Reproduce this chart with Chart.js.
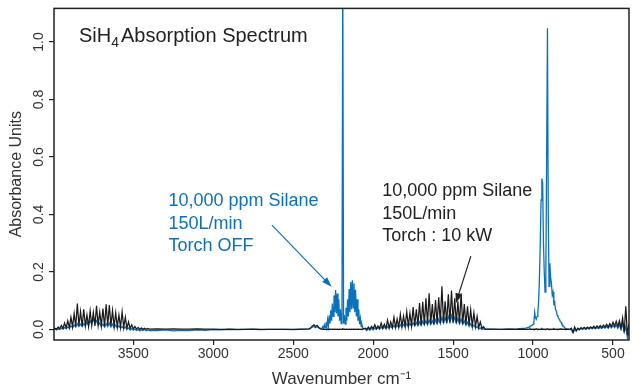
<!DOCTYPE html>
<html>
<head>
<meta charset="utf-8">
<script src="https://cdn.jsdelivr.net/npm/chart.js@4.4.0/dist/chart.umd.min.js"></script>
<style>
  html, body { margin: 0; padding: 0; background: #fff; }
  #wrap { width: 640px; height: 391px; }
</style>
</head>
<body>
<div id="wrap"><canvas id="spectrum"></canvas></div>
<script>
// wavenumber grid (cm-1), dense where the traces are noisy
const wavenumbers = [
  4000,3990,3980,3970,3960,3950,3940,3930,3920,3910,
  3900,3890,3880,3870,3860,3850,3840,3830,3820,3810,
  3800,3790,3780,3770,3760,3750,3740,3730,3720,3710,
  3700,3690,3680,3670,3660,3650,3640,3630,3620,3610,
  3600,3590,3580,3570,3560,3550,3540,3530,3520,3510,
  3500,3490,3480,3470,3460,3450,3440,3430,3420,3410,
  3400,
  3350,3300,3250,3200,3150,3100,3050,3000,2950,2900,2850,2800,2750,2700,2650,2600,2550,2500,2450,
  2400,2390,2380,2370,2360,2350,2340,2330,
  2320,2315,2310,2305,2300,2295,2290,2285,2280,2275,
  2270,2265,2260,2255,2250,2245,2240,2235,2230,2225,
  2220,2215,2210,2205,2200,2195,2190,2185,2180,2175,
  2170,2165,2160,2155,2150,2145,2140,2135,2130,2125,
  2120,2115,2110,2105,2100,2095,2090,2085,2080,2075,
  2070,2065,2060,
  2050,2040,2030,2020,2010,2000,1990,1980,1970,1960,
  1950,1940,1930,1920,1910,1900,1890,1880,1870,1860,
  1850,1840,1830,1820,1810,1800,1790,1780,1770,1760,
  1750,1740,1730,1720,1710,1700,1690,1680,1670,1660,
  1650,1640,1630,1620,1610,1600,1590,1580,1570,1560,
  1550,1540,1530,1520,1510,1500,1490,1480,1470,1460,
  1450,1440,1430,1420,1410,1400,1390,1380,1370,1360,
  1350,1340,1330,1320,1310,1300,
  1250,1200,1150,1100,1050,
  1040,1035,1030,1025,1020,1015,1010,1005,1000,995,
  990,985,980,975,970,965,960,955,950,945,
  940,935,930,925,920,915,910,905,900,895,
  890,885,880,875,870,865,860,855,850,845,
  840,835,830,825,820,815,810,805,800,795,
  790,785,780,
  770,760,750,740,730,720,710,700,690,680,
  670,660,650,640,630,620,610,600,590,580,
  570,560,550,540,530,520,510,500,490,480,
  470,460,450,440,430,420,410,400
];

// 10,000 ppm silane, 150 L/min, torch 10 kW (black)
const torchOn = [
  0.000,0.004,0.001,0.008,0.002,0.014,0.003,0.022,0.005,0.030,
  0.006,0.042,0.008,0.055,0.010,0.090,0.012,0.062,0.010,0.070,
  0.012,0.050,0.010,0.064,0.014,0.058,0.012,0.082,0.015,0.060,
  0.012,0.072,0.010,0.087,0.014,0.085,0.012,0.066,0.010,0.058,
  0.008,0.050,0.007,0.061,0.006,0.042,0.004,0.026,0.003,0.016,
  0.002,0.010,0.001,0.007,0.000,0.005,0.000,0.004,0.000,0.003,
  0.001,
  0.002,0.001,0.002,0.001,0.001,0.002,0.001,0.001,0.000,0.001,0.000,0.000,0.001,0.000,0.000,0.000,0.000,0.000,0.001,
  0.002,0.006,0.012,0.016,0.010,0.014,0.006,0.002,
  0.001,0.000,0.001,0.000,0.001,0.000,0.000,0.001,0.000,0.000,
  0.001,0.000,0.000,0.001,0.000,0.000,0.001,0.000,0.000,0.001,
  0.000,0.000,0.001,0.000,0.000,0.001,0.002,0.000,0.001,0.000,
  0.000,0.001,0.000,0.000,0.001,0.000,0.000,0.001,0.000,0.000,
  0.001,0.000,0.000,0.001,0.000,0.000,0.001,0.000,0.000,0.001,
  0.000,0.001,0.002,
  0.004,0.000,0.008,0.001,0.010,0.002,0.016,0.002,0.012,0.003,
  0.022,0.004,0.018,0.004,0.032,0.005,0.026,0.006,0.042,0.007,
  0.036,0.008,0.052,0.009,0.046,0.010,0.062,0.010,0.056,0.012,
  0.078,0.012,0.070,0.014,0.092,0.014,0.096,0.016,0.108,0.018,
  0.126,0.018,0.088,0.018,0.102,0.020,0.112,0.022,0.150,0.022,
  0.098,0.022,0.122,0.024,0.135,0.024,0.108,0.022,0.098,0.020,
  0.126,0.018,0.088,0.016,0.080,0.014,0.068,0.012,0.058,0.010,
  0.045,0.006,0.026,0.003,0.010,0.001,
  0.001,0.000,0.001,0.000,0.001,
  0.000,0.001,0.000,0.001,0.002,0.000,0.001,0.000,0.001,0.000,
  0.001,0.000,0.002,0.001,0.000,0.001,0.000,0.001,0.000,0.002,
  0.000,0.001,0.000,0.001,0.000,0.001,0.002,0.000,0.001,0.000,
  0.001,0.000,0.001,0.000,0.002,0.000,0.001,0.000,0.001,0.000,
  0.001,0.000,0.002,0.000,0.001,0.000,0.001,0.000,0.001,0.000,
  0.001,0.000,0.001,
  0.000,0.004,-0.010,0.008,-0.004,0.004,0.000,0.006,0.002,0.007,
  0.002,0.008,0.003,0.009,0.004,0.011,0.004,0.012,0.005,0.013,
  0.006,0.015,0.008,0.018,0.008,0.020,0.010,0.025,0.012,0.028,
  0.010,0.030,0.005,0.040,-0.010,0.080,-0.020,0.020
];

// 10,000 ppm silane, 150 L/min, torch off (blue)
const torchOff = [
  0.000,0.001,-0.002,0.002,0.000,0.004,0.001,0.006,0.003,0.008,
  0.004,0.012,0.006,0.015,0.008,0.020,0.010,0.018,0.010,0.020,
  0.012,0.025,0.015,0.030,0.020,0.038,0.022,0.030,0.015,0.022,
  0.010,0.018,0.008,0.020,0.010,0.022,0.008,0.018,0.006,0.015,
  0.005,0.012,0.004,0.010,0.003,0.008,0.001,0.005,-0.002,0.003,
  -0.003,0.001,-0.004,0.000,-0.005,-0.001,-0.004,0.000,-0.005,-0.002,
  -0.004,
  -0.004,-0.002,-0.005,-0.003,-0.004,-0.002,-0.003,-0.001,-0.002,0.000,-0.001,0.000,0.000,-0.001,0.000,0.000,0.000,-0.001,0.000,
  0.001,0.004,0.008,0.010,0.006,0.009,0.005,0.003,
  0.004,0.010,0.004,0.016,0.006,0.024,0.008,0.034,0.012,0.048,
  0.020,0.066,0.030,0.090,0.045,0.118,0.060,0.137,0.055,0.125,
  0.045,0.105,0.030,0.070,0.020,0.040,1.250,0.020,0.050,0.018,
  0.075,0.030,0.105,0.045,0.140,0.060,0.165,0.070,0.171,0.075,
  0.160,0.060,0.138,0.045,0.105,0.030,0.070,0.018,0.038,0.010,
  0.016,0.004,0.003,
  0.002,-0.004,0.003,-0.003,0.004,-0.002,0.005,0.000,0.006,0.001,
  0.008,0.002,0.008,0.003,0.010,0.004,0.011,0.005,0.013,0.006,
  0.014,0.007,0.016,0.008,0.017,0.009,0.019,0.010,0.020,0.011,
  0.022,0.012,0.024,0.013,0.026,0.014,0.028,0.015,0.030,0.016,
  0.032,0.017,0.030,0.018,0.033,0.019,0.036,0.020,0.042,0.022,
  0.040,0.024,0.045,0.025,0.048,0.026,0.042,0.022,0.038,0.020,
  0.036,0.018,0.030,0.014,0.025,0.010,0.020,0.008,0.015,0.005,
  0.010,0.002,0.005,0.000,0.002,0.000,
  0.000,0.000,0.001,0.002,0.004,
  0.005,0.006,0.007,0.008,0.010,0.011,0.013,0.015,0.018,0.025,
  0.060,0.040,0.035,0.045,0.060,0.100,0.180,0.300,0.450,0.525,
  0.510,0.300,0.200,0.130,0.200,0.600,1.048,0.400,0.150,0.230,
  0.180,0.160,0.120,0.130,0.090,0.095,0.070,0.065,0.050,0.045,
  0.038,0.035,0.028,0.025,0.018,0.015,0.010,0.008,0.005,0.003,
  0.002,0.001,0.000,
  0.000,-0.002,-0.012,0.000,-0.006,0.002,-0.002,0.003,0.000,0.004,
  0.000,0.004,0.001,0.005,0.002,0.006,0.002,0.006,0.003,0.007,
  0.003,0.008,0.004,0.010,0.004,0.012,0.005,0.014,0.006,0.015,
  0.004,0.016,0.000,0.020,-0.010,0.010,-0.030,-0.010
];

const xTicks = [3500, 3000, 2500, 2000, 1500, 1000, 500];
const yTicks = [0, 0.2, 0.4, 0.6, 0.8, 1.0];

const BLUE = '#0a72bd';
const INK = '#222';
const FONT = "'Liberation Sans', Arial, Helvetica, sans-serif";

// text blocks and arrows, anchored in data units
const offLabel = { at: [3280, 0.446], lines: ['10,000 ppm Silane', '150L/min', 'Torch OFF'] };
const onLabel = { at: [1943, 0.481], lines: ['10,000 ppm Silane', '150L/min', 'Torch : 10 kW'] };
const offArrow = { from: [2633, 0.363], to: [2260, 0.148] };
const onArrow = { from: [1389, 0.255], to: [1483, 0.091] };

function toPoints(ys) {
  return wavenumbers.map((w, i) => ({ x: w, y: ys[i] }));
}

function drawArrow(ctx, x0, y0, x1, y1, color) {
  const ang = Math.atan2(y1 - y0, x1 - x0);
  const len = 10, half = 3.5;
  ctx.strokeStyle = color;
  ctx.fillStyle = color;
  ctx.lineWidth = 1.2;
  ctx.beginPath();
  ctx.moveTo(x0, y0);
  ctx.lineTo(x1 - Math.cos(ang) * len * 0.8, y1 - Math.sin(ang) * len * 0.8);
  ctx.stroke();
  ctx.beginPath();
  ctx.moveTo(x1, y1);
  ctx.lineTo(x1 - Math.cos(ang) * len - Math.sin(ang) * half, y1 - Math.sin(ang) * len + Math.cos(ang) * half);
  ctx.lineTo(x1 - Math.cos(ang) * len + Math.sin(ang) * half, y1 - Math.sin(ang) * len - Math.cos(ang) * half);
  ctx.closePath();
  ctx.fill();
}

const annotate = {
  id: 'annotate',
  afterDatasetsDraw(chart) {
    const { ctx, chartArea: a, scales: { x, y } } = chart;
    ctx.save();

    // frame
    ctx.strokeStyle = INK;
    ctx.lineWidth = 1.5;
    ctx.strokeRect(a.left, a.top, a.right - a.left, a.bottom - a.top);

    // title with subscript
    ctx.fillStyle = INK;
    ctx.textBaseline = 'alphabetic';
    ctx.textAlign = 'left';
    let tx = x.getPixelForValue(3840);
    const ty = y.getPixelForValue(1.023) + 7;
    ctx.font = '20px ' + FONT;
    ctx.fillText('SiH', tx, ty);
    tx += ctx.measureText('SiH').width;
    ctx.font = '14px ' + FONT;
    ctx.fillText('4', tx, ty + 5);
    tx += ctx.measureText('4').width + 2;
    ctx.font = '20px ' + FONT;
    ctx.fillText('Absorption Spectrum', tx, ty);

    // text blocks
    ctx.font = '18px ' + FONT;
    ctx.textBaseline = 'middle';
    [[offLabel, BLUE], [onLabel, INK]].forEach(([lab, col]) => {
      ctx.fillStyle = col;
      const px = x.getPixelForValue(lab.at[0]);
      const py = y.getPixelForValue(lab.at[1]);
      lab.lines.forEach((t, i) => ctx.fillText(t, px, py + i * 22.5));
    });

    // arrows
    [[offArrow, BLUE], [onArrow, INK]].forEach(([arr, col]) => {
      drawArrow(ctx,
        x.getPixelForValue(arr.from[0]), y.getPixelForValue(arr.from[1]),
        x.getPixelForValue(arr.to[0]), y.getPixelForValue(arr.to[1]), col);
    });
    ctx.restore();
  }
};

new Chart(document.getElementById('spectrum'), {
  type: 'line',
  data: {
    datasets: [{
      label: 'Torch : 10 kW',
      data: toPoints(torchOn),
      borderColor: '#1a1a1a',
      borderWidth: 1.25,
      pointRadius: 0,
      tension: 0
    }, {
      label: 'Torch OFF',
      data: toPoints(torchOff),
      borderColor: BLUE,
      borderWidth: 1.3,
      pointRadius: 0,
      tension: 0
    }]
  },
  options: {
    responsive: true,
    maintainAspectRatio: false,
    devicePixelRatio: 1,
    animation: false,
    layout: { padding: { top: 8, right: 11, left: 0, bottom: 0 } },
    plugins: { legend: { display: false }, tooltip: { enabled: false } },
    scales: {
      x: {
        type: 'linear',
        reverse: true,
        min: 400,
        max: 3996,
        afterFit: s => { s.height = 51; },
        afterBuildTicks: s => { s.ticks = xTicks.map(v => ({ value: v })); },
        border: { display: false },
        grid: { drawOnChartArea: false, tickLength: 5, color: INK, lineWidth: 1.2 },
        ticks: {
          autoSkip: false, maxRotation: 0, padding: 1, color: '#333',
          font: { family: FONT, size: 14 },
          callback: v => String(v)
        },
        title: {
          display: true, text: 'Wavenumber cm\u207B\u00B9', color: '#333',
          font: { family: FONT, size: 17 }, padding: { top: 0, bottom: 1 }
        }
      },
      y: {
        min: -0.037,
        max: 1.117,
        afterFit: s => { s.width = 54; },
        afterBuildTicks: s => { s.ticks = yTicks.map(v => ({ value: v })); },
        border: { display: false },
        grid: { drawOnChartArea: false, tickLength: 5, color: INK, lineWidth: 1.2 },
        ticks: {
          minRotation: 90, maxRotation: 90, crossAlign: 'center', padding: 0,
          color: '#333', font: { family: FONT, size: 14 },
          callback: v => v.toFixed(1)
        },
        title: {
          display: true, text: 'Absorbance Units', color: '#333',
          font: { family: FONT, size: 16 }, padding: { top: 7, bottom: 0 }
        }
      }
    }
  },
  plugins: [annotate]
});
</script>
</body>
</html>
